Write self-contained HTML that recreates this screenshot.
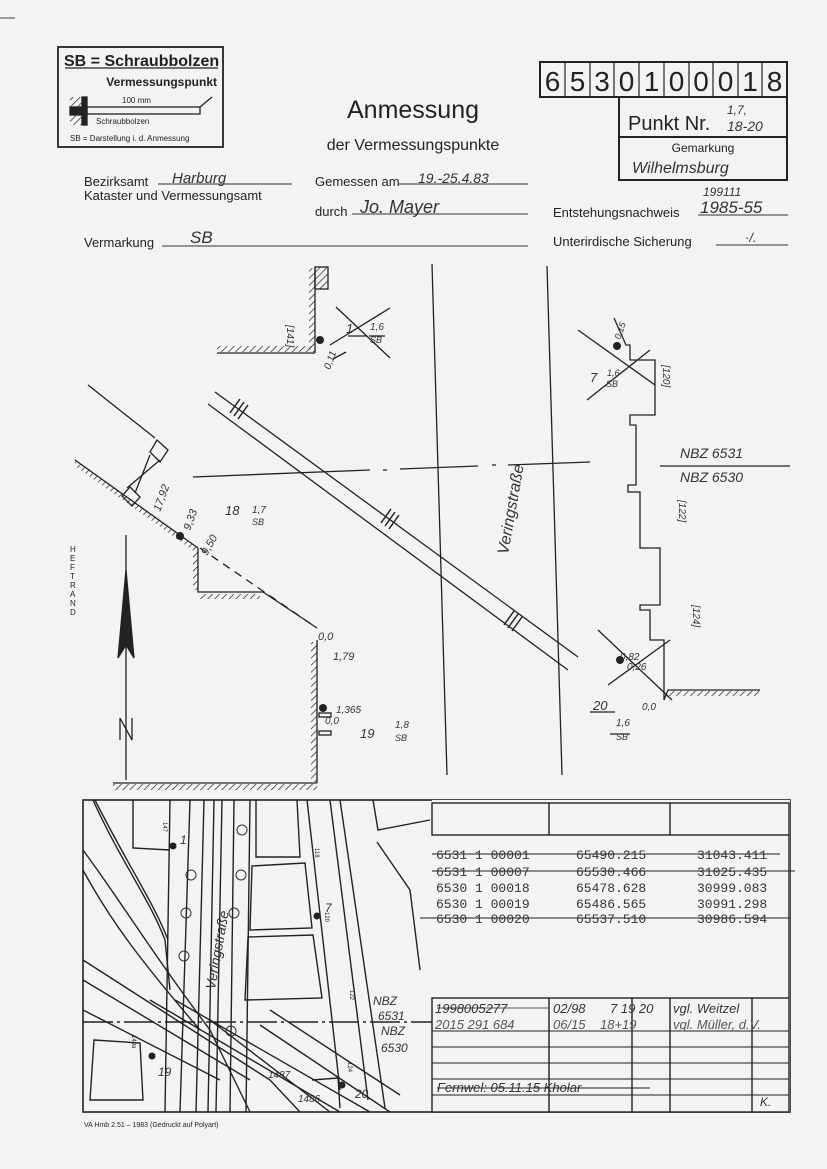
<!DOCTYPE html>
<html><head><meta charset="utf-8"><style>
html,body{margin:0;padding:0;background:#f3f3f1;}
svg{display:block}
.s{font-family:"Liberation Sans",sans-serif;fill:#222}
.h{font-family:"Liberation Sans",sans-serif;font-style:italic;fill:#333}
.m{font-family:"Liberation Mono",monospace;fill:#333;font-size:13px}
</style></head><body>
<svg width="827" height="1169" viewBox="0 0 827 1169" xmlns="http://www.w3.org/2000/svg">
<defs>
<pattern id="hat" width="5" height="5" patternUnits="userSpaceOnUse" patternTransform="rotate(45)"><line x1="0" y1="0" x2="0" y2="5" stroke="#222" stroke-width="1.4"/></pattern>
</defs>
<rect width="827" height="1169" fill="#f3f3f1"/>
<g stroke="#222" fill="none" stroke-width="1.3">
<rect x="58" y="47" width="165" height="100" stroke-width="1.8"/>
<line x1="65" y1="68" x2="218" y2="68"/>
<rect x="70" y="97" width="12" height="10" fill="url(#hat)" stroke="none"/>
<rect x="70" y="115" width="12" height="10" fill="url(#hat)" stroke="none"/>
<rect x="82" y="97" width="5" height="28" fill="#222"/>
<rect x="70" y="107" width="12" height="8" fill="#222"/>
<rect x="87" y="107" width="113" height="7"/>
<line x1="200" y1="107" x2="212" y2="97"/>
</g>
<text x="64" y="66" class="s" font-size="16" font-weight="bold">SB = Schraubbolzen</text>
<text x="217" y="86" class="s" font-size="12" font-weight="bold" text-anchor="end">Vermessungspunkt</text>
<text x="122" y="103" class="s" font-size="8">100 mm</text>
<text x="96" y="124" class="s" font-size="8">Schraubbolzen</text>
<text x="70" y="141" class="s" font-size="8">SB  = Darstellung i. d. Anmessung</text>

<text x="413" y="118" class="s" font-size="25" text-anchor="middle">Anmessung</text>
<text x="413" y="150" class="s" font-size="16" text-anchor="middle">der Vermessungspunkte</text>

<text x="84" y="186" class="s" font-size="13">Bezirksamt</text>
<text x="84" y="200" class="s" font-size="13">Kataster und Vermessungsamt</text>
<text x="84" y="247" class="s" font-size="13">Vermarkung</text>
<text x="315" y="186" class="s" font-size="13">Gemessen am</text>
<text x="315" y="216" class="s" font-size="13">durch</text>
<text x="553" y="217" class="s" font-size="13">Entstehungsnachweis</text>
<text x="553" y="246" class="s" font-size="13">Unterirdische Sicherung</text>
<g stroke="#333" stroke-width="1">
<line x1="158" y1="184" x2="292" y2="184"/>
<line x1="162" y1="246" x2="528" y2="246"/>
<line x1="398" y1="184" x2="528" y2="184"/>
<line x1="352" y1="214" x2="528" y2="214"/>
<line x1="698" y1="215" x2="788" y2="215"/>
<line x1="716" y1="245" x2="788" y2="245"/>
</g>
<text x="172" y="183" class="h" font-size="15">Harburg</text>
<text x="190" y="243" class="h" font-size="17">SB</text>
<text x="418" y="183" class="h" font-size="14">19.-25.4.83</text>
<text x="360" y="213" class="h" font-size="18">Jo. Mayer</text>
<text x="703" y="196" class="h" font-size="12">199111</text>
<text x="700" y="213" class="h" font-size="17">1985-55</text>
<text x="745" y="242" class="h" font-size="13">·/.</text>

<g stroke="#222" fill="none" stroke-width="2">
<rect x="540" y="62" width="247" height="35"/>
<rect x="619" y="97" width="168" height="83"/>
<line x1="619" y1="137" x2="787" y2="137"/>
</g>
<g stroke="#222" stroke-width="1.2">
<line x1="565" y1="62" x2="565" y2="97"/><line x1="590" y1="62" x2="590" y2="97"/><line x1="614" y1="62" x2="614" y2="97"/><line x1="639" y1="62" x2="639" y2="97"/><line x1="664" y1="62" x2="664" y2="97"/><line x1="689" y1="62" x2="689" y2="97"/><line x1="713" y1="62" x2="713" y2="97"/><line x1="738" y1="62" x2="738" y2="97"/><line x1="762" y1="62" x2="762" y2="97"/>
</g>
<g class="s" font-size="28" text-anchor="middle">
<text x="552.5" y="91">6</text><text x="577.5" y="91">5</text><text x="602" y="91">3</text><text x="626.5" y="91">0</text><text x="651.5" y="91">1</text><text x="676.5" y="91">0</text><text x="701" y="91">0</text><text x="725.5" y="91">0</text><text x="750" y="91">1</text><text x="774.5" y="91">8</text>
</g>
<text x="628" y="130" class="s" font-size="20">Punkt Nr.</text>
<text x="727" y="114" class="h" font-size="12">1,7,</text>
<text x="727" y="131" class="h" font-size="14">18-20</text>
<text x="703" y="152" class="s" font-size="12" text-anchor="middle">Gemarkung</text>
<text x="632" y="173" class="h" font-size="16">Wilhelmsburg</text>

<g stroke="#222" fill="none" stroke-width="1.3">
<line x1="432" y1="264" x2="447" y2="775"/>
<line x1="547" y1="266" x2="562" y2="775"/>
<rect x="309" y="268" width="6" height="84" fill="url(#hat)" stroke="none"/>
<line x1="315" y1="267" x2="315" y2="353"/>
<line x1="217" y1="353" x2="315" y2="353"/>
<rect x="217" y="346" width="96" height="6" fill="url(#hat)" stroke="none"/>
<rect x="315" y="267" width="13" height="22" fill="url(#hat)"/>
<line x1="336" y1="307" x2="390" y2="358"/>
<line x1="330" y1="345" x2="390" y2="308"/>
<line x1="333" y1="359" x2="346" y2="352"/>
<line x1="348" y1="336" x2="366" y2="336"/><line x1="369" y1="336" x2="385" y2="336"/>
<line x1="215" y1="392" x2="578" y2="657"/>
<line x1="208" y1="404" x2="568" y2="670"/>
<g stroke-width="1.5">
<line x1="230" y1="413" x2="240" y2="399"/><line x1="234" y1="416" x2="244" y2="402"/><line x1="238" y1="419" x2="248" y2="405"/>
<line x1="381" y1="523" x2="391" y2="509"/><line x1="385" y1="526" x2="395" y2="512"/><line x1="389" y1="529" x2="399" y2="515"/>
<line x1="504" y1="625" x2="514" y2="611"/><line x1="508" y1="628" x2="518" y2="614"/><line x1="512" y1="631" x2="522" y2="617"/>
</g>
<path d="M193,477 L370,470 M383,470 L387,470 M400,469 L478,466 M492,465 L496,465 M508,465 L590,462" />
<line x1="88" y1="385" x2="155" y2="438"/>
<line x1="75" y1="460" x2="198" y2="548"/>
<path d="M75,460 L198,548 L198,554 L75,466 Z" fill="url(#hat)" stroke="none"/>
<path d="M157,440 L168,450 L160,462 L150,452 Z"/>
<path d="M130,487 L140,497 L132,506 L122,496 Z"/>
<line x1="150" y1="455" x2="135" y2="493"/><line x1="160" y1="460" x2="127" y2="488"/>
<path d="M198,548 L198,592 L263,592 L317,628"/>
<rect x="193" y="552" width="5" height="38" fill="url(#hat)" stroke="none"/>
<rect x="200" y="594" width="60" height="5" fill="url(#hat)" stroke="none"/>
<line x1="200" y1="548" x2="317" y2="628" stroke-dasharray="8,6"/>
<line x1="317" y1="640" x2="317" y2="783"/>
<rect x="311" y="642" width="6" height="140" fill="url(#hat)" stroke="none"/>
<line x1="113" y1="783" x2="317" y2="783"/>
<rect x="113" y="784" width="204" height="6" fill="url(#hat)" stroke="none"/>
<rect x="319" y="713" width="12" height="4"/><rect x="319" y="731" width="12" height="4"/>
<line x1="126" y1="535" x2="126" y2="780"/>
<path d="M126,570 L118,658 L126,645 L134,658 Z" fill="#222"/>
<path d="M120,740 L120,718 L132,740 L132,718"/>
<path d="M614,318 L626,345 L630,345 L630,360 L655,360 L655,415 L630,415 L630,425 L636,425 L636,485 L628,485 L628,492 L640,492 L640,548 L660,548 L660,605 L640,605 L640,610 L650,610 L650,640 L664,640 L664,700"/>
<path d="M664,700 L668,690 L760,690"/>
<rect x="668" y="691" width="92" height="5" fill="url(#hat)" stroke="none"/>
<line x1="578" y1="330" x2="655" y2="385"/><line x1="587" y1="400" x2="650" y2="350"/>
<line x1="598" y1="630" x2="672" y2="700"/><line x1="608" y1="685" x2="670" y2="640"/>
<line x1="590" y1="712" x2="615" y2="712"/><line x1="610" y1="734" x2="630" y2="734"/>
<line x1="660" y1="466" x2="790" y2="466"/>
</g>
<g fill="#222"><circle cx="320" cy="340" r="4"/><circle cx="180" cy="536" r="4"/><circle cx="323" cy="708" r="4"/><circle cx="617" cy="346" r="4"/><circle cx="620" cy="660" r="4"/></g>
<g class="h" font-size="13">
<text x="346" y="333">1</text><text x="370" y="330" font-size="10">1,6</text><text x="370" y="343" font-size="9">SB</text>
<text x="225" y="515">18</text><text x="252" y="513" font-size="10">1,7</text><text x="252" y="525" font-size="9">SB</text>
<text x="360" y="738">19</text><text x="395" y="728" font-size="10">1,8</text><text x="395" y="741" font-size="9">SB</text>
<text x="590" y="382">7</text><text x="607" y="376" font-size="9">1,6</text><text x="606" y="387" font-size="9">SB</text>
<text x="593" y="710">20</text><text x="616" y="726" font-size="10">1,6</text><text x="616" y="740" font-size="9">SB</text>
<text x="318" y="640" font-size="11">0,0</text><text x="333" y="660" font-size="11">1,79</text>
<text x="336" y="713" font-size="10">1,365</text><text x="325" y="724" font-size="10">0,0</text>
<text x="642" y="710" font-size="10">0,0</text><text x="620" y="660" font-size="10">0,82</text><text x="627" y="670" font-size="10">0,26</text>
<text x="680" y="458" font-size="14">NBZ  6531</text><text x="680" y="482" font-size="14">NBZ  6530</text>
<text transform="translate(160,512) rotate(-70)" font-size="11">17,92</text>
<text transform="translate(190,531) rotate(-70)" font-size="11">9,33</text>
<text transform="translate(207,556) rotate(-60)" font-size="11">9,50</text>
<text transform="translate(330,370) rotate(-70)" font-size="10">0,11</text>
<text transform="translate(620,340) rotate(-70)" font-size="9">0,15</text>
<text transform="translate(508,555) rotate(-80)" font-size="16">Veringstraße</text>
<text transform="translate(287,325) rotate(90)" font-size="10">[141]</text>
<text transform="translate(663,365) rotate(90)" font-size="10">[120]</text>
<text transform="translate(679,500) rotate(90)" font-size="10">[122]</text>
<text transform="translate(693,605) rotate(90)" font-size="10">[124]</text>
</g>
<g class="s" font-size="8"><text x="70" y="552">H</text><text x="70" y="561">E</text><text x="70" y="570">F</text><text x="70" y="579">T</text><text x="70" y="588">R</text><text x="70" y="597">A</text><text x="70" y="606">N</text><text x="70" y="615">D</text></g>

<g stroke="#222" fill="none" stroke-width="1.4">
<rect x="83" y="800" width="707" height="312" stroke-width="1.6"/>
<path d="M93,800 C120,860 150,900 165,940 L170,990"/>
<path d="M95,800 C125,860 155,905 168,940"/>
<path d="M83,850 C120,900 150,950 210,1030 L250,1112"/>
<path d="M83,870 C110,920 140,960 200,1030"/>
<path d="M83,960 L270,1080 L300,1112"/><path d="M83,980 L250,1080"/>
<path d="M83,1010 L220,1080"/><path d="M150,1000 L340,1112"/><path d="M175,1000 L370,1112"/>
<path d="M210,1020 L330,1112"/><path d="M260,1025 L390,1112"/><path d="M270,1010 L400,1095"/>
<line x1="170" y1="800" x2="165" y2="1112"/><line x1="190" y1="800" x2="180" y2="1112"/>
<line x1="204" y1="800" x2="196" y2="1112"/><line x1="214" y1="800" x2="208" y2="1112"/>
<line x1="222" y1="800" x2="216" y2="1112"/><line x1="234" y1="800" x2="230" y2="1112"/>
<line x1="250" y1="800" x2="246" y2="1112"/>
<path d="M133,800 L133,848 L170,850"/>
<path d="M256,800 L256,857 L300,857 L297,800"/>
<path d="M252,866 L305,863 L312,928 L250,930 Z"/>
<path d="M248,937 L313,935 L322,998 L245,1000 Z"/>
<line x1="307" y1="800" x2="340" y2="1090"/><line x1="330" y1="800" x2="368" y2="1100"/>
<line x1="340" y1="800" x2="385" y2="1108"/>
<path d="M377,842 L410,890 L420,970"/>
<path d="M373,800 L378,830 L430,820"/>
<path d="M94,1040 L140,1043 L143,1100 L90,1100 Z"/>
<path d="M312,1080 L338,1078 L340,1108"/>
<line x1="83" y1="1022" x2="440" y2="1022" stroke-dasharray="30,4,3,4"/>
</g>
<g fill="#222"><circle cx="173" cy="846" r="3.5"/><circle cx="317" cy="916" r="3.5"/><circle cx="152" cy="1056" r="3.5"/><circle cx="342" cy="1085" r="3.5"/></g>
<g class="h" font-size="12">
<text x="180" y="844">1</text><text x="325" y="912">7</text><text x="158" y="1076">19</text><text x="355" y="1098">20</text>
<text x="373" y="1005">NBZ</text><text x="378" y="1020">6531</text><text x="381" y="1035">NBZ</text><text x="381" y="1052">6530</text>
<text x="268" y="1078" font-size="10">1487</text><text x="298" y="1102" font-size="10">1486</text>
<text transform="translate(215,990) rotate(-80)" font-size="14">Veringstraße</text>
</g>
<g class="s" font-size="6"><text transform="translate(163,822) rotate(90)">147</text><text transform="translate(315,848) rotate(90)">118</text><text transform="translate(325,912) rotate(90)">120</text><text transform="translate(350,990) rotate(90)">122</text><text transform="translate(348,1062) rotate(90)">124</text><text transform="translate(132,1035) rotate(90)">149a</text></g>
<g fill="none" stroke="#333" stroke-width="1"><circle cx="242" cy="830" r="5"/><circle cx="191" cy="875" r="5"/><circle cx="241" cy="875" r="5"/><circle cx="186" cy="913" r="5"/><circle cx="234" cy="913" r="5"/><circle cx="184" cy="956" r="5"/><circle cx="231" cy="1031" r="5"/></g>

<rect x="432" y="800" width="358" height="312" fill="#f3f3f1"/>
<g stroke="#222" fill="none" stroke-width="1.4">
<rect x="432" y="803" width="357" height="32"/>
<line x1="549" y1="803" x2="549" y2="835"/><line x1="670" y1="803" x2="670" y2="835"/>
<line x1="789" y1="835" x2="789" y2="998"/>
<rect x="432" y="998" width="357" height="114"/>
<line x1="549" y1="998" x2="549" y2="1112"/><line x1="632" y1="998" x2="632" y2="1112"/><line x1="670" y1="998" x2="670" y2="1112"/><line x1="752" y1="998" x2="752" y2="1112"/>
<g stroke-width="1"><line x1="432" y1="1031" x2="789" y2="1031"/><line x1="432" y1="1047" x2="789" y2="1047"/><line x1="432" y1="1063" x2="789" y2="1063"/><line x1="432" y1="1079" x2="789" y2="1079"/><line x1="432" y1="1095" x2="789" y2="1095"/></g>
<g stroke-width="1"><line x1="432" y1="854" x2="780" y2="854"/><line x1="432" y1="871" x2="795" y2="871"/><line x1="420" y1="918" x2="790" y2="918"/></g>
</g>
<g class="m">
<text x="436" y="859">6531 1 00001</text><text x="576" y="859">65490.215</text><text x="697" y="859">31043.411</text>
<text x="436" y="876">6531 1 00007</text><text x="576" y="876">65530.466</text><text x="697" y="876">31025.435</text>
<text x="436" y="892">6530 1 00018</text><text x="576" y="892">65478.628</text><text x="697" y="892">30999.083</text>
<text x="436" y="908">6530 1 00019</text><text x="576" y="908">65486.565</text><text x="697" y="908">30991.298</text>
<text x="436" y="923">6530 1 00020</text><text x="576" y="923">65537.510</text><text x="697" y="923">30986.594</text>
</g>
<g class="h" font-size="13">
<text x="435" y="1013">1998005277</text><text x="553" y="1013">02/98</text><text x="610" y="1013">7 19 20</text><text x="673" y="1013">vgl. Weitzel</text>
<text x="435" y="1029" fill="#555">2015 291 684</text><text x="553" y="1029" fill="#555">06/15</text><text x="600" y="1029" fill="#555">18+19</text><text x="673" y="1029" fill="#555">vgl. Müller, d.V.</text>
<text x="437" y="1092">Fernwel: 05.11.15 Kholar</text>
</g>
<line x1="437" y1="1088" x2="650" y2="1088" stroke="#222" stroke-width="1"/>
<line x1="437" y1="1008" x2="548" y2="1008" stroke="#222" stroke-width="0.8"/>
<text x="760" y="1106" class="h" font-size="12">K.</text>
<text x="84" y="1127" class="s" font-size="7">VA Hmb 2.51 – 1983 (Gedruckt auf Polyart)</text>
<line x1="0" y1="18" x2="15" y2="18" stroke="#444"/>
</svg>
</body></html>
